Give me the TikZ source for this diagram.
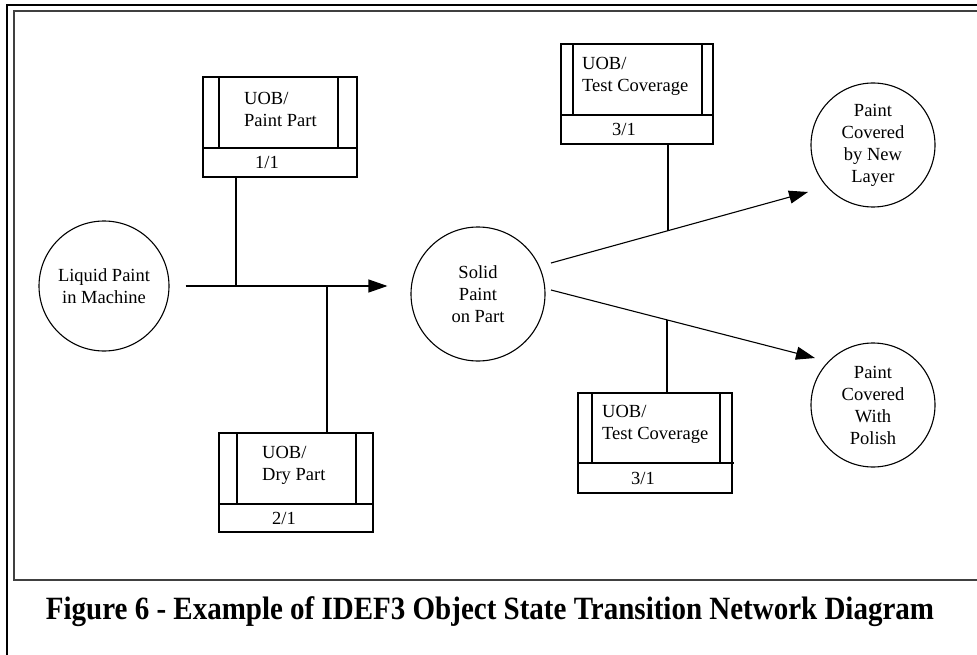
\documentclass[tikz,border=0pt]{standalone}
\usepackage{fontspec}
\setmainfont{Liberation Serif}
\usetikzlibrary{arrows.meta,calc}
\tikzset{
  state/.style={circle, draw, line width=1.1pt, minimum size=#1, inner sep=0pt,
    align=center, font=\fontsize{18.5}{22}\selectfont},
  state/.default=128pt,
  uob/.style={draw, line width=1.2pt, rectangle, inner sep=0pt},
  uobline/.style={line width=1.2pt},
  uobtext/.style={anchor=west, align=left, inner sep=0pt, font=\fontsize{18.5}{22}\selectfont},
  uobnum/.style={inner sep=0pt, font=\fontsize{18.5}{22}\selectfont},
  link/.style={line width=1.1pt},
  flow/.style={line width=1.1pt, -{Triangle[length=19pt,width=13pt]}},
}
\begin{document}
\begin{tikzpicture}[x=1pt, y=-1pt]
\useasboundingbox (0,0) rectangle (977,655);
\begin{scope}
\clip (0,0) rectangle (977,655);
% double border around the page
\draw[line width=2pt] (7,700) -- (7,5) -- (990,5);
\draw[line width=1.2pt, black!75] (990,11) -- (14,11) -- (14,580) -- (990,580);
\end{scope}

% object states
\node[state=130pt] (liquid) at (104,286) {Liquid Paint\\in Machine};
\node[state=134pt] (solid)  at (478,294) {Solid\\Paint\\on Part};
\node[state=124pt] (layer)  at (873,145) {Paint\\Covered\\by New\\Layer};
\node[state=124pt] (polish) at (873,405) {Paint\\Covered\\With\\Polish};

% UOB boxes: outer frame, divider, side bars, text
% Paint Part
\node[uob, minimum width=154pt, minimum height=100pt] (pp) at (280,127) {};
\draw[uobline] (203,148) -- (357,148) (219,77) -- (219,148) (338,77) -- (338,148);
\node[uobtext] (pptext) at (244,109) {UOB/\\Paint Part};
\node[uobnum] (ppnum) at (267,162.5) {1/1};
% Dry Part
\node[uob, minimum width=154pt, minimum height=99pt] (dp) at (296,482.5) {};
\draw[uobline] (219,504) -- (373,504) (237,433) -- (237,504) (356,433) -- (356,504);
\node[uobtext] (dptext) at (262,465) {UOB/\\Dry Part};
\node[uobnum] (dpnum) at (284,518) {2/1};
% Test Coverage (upper)
\node[uob, minimum width=152pt, minimum height=100pt] (tc1) at (637,94) {};
\draw[uobline] (561,115) -- (713,115) (573,44) -- (573,115) (702,44) -- (702,115);
\node[uobtext] (tc1text) at (582,76) {UOB/\\Test Coverage};
\node[uobnum] (tc1num) at (624,129.5) {3/1};
% Test Coverage (lower)
\node[uob, minimum width=154pt, minimum height=100pt] (tc2) at (655,443) {};
\draw[uobline] (578,463) -- (734,463) (592,393) -- (592,463) (720,393) -- (720,463);
\node[uobtext] (tc2text) at (602,424.5) {UOB/\\Test Coverage};
\node[uobnum] (tc2num) at (643,478) {3/1};

% junction points on the transition lines
\coordinate (j1) at (236,286);
\coordinate (j2) at (327,286);
\coordinate (s1) at (551,263);
\coordinate (t1) at (808,192);
\coordinate (s2) at (551,290);
\coordinate (t2) at (815,358);
\coordinate (j3) at (668,{263-(668-551)*71/257});
\coordinate (j4) at (667,{290+(667-551)*68/264});

% transitions
\draw[flow] ([xshift=16pt]liquid.east) -- ([xshift=-23pt]liquid.east -| solid.west);
\draw[flow] (s1) -- (t1);
\draw[flow] (s2) -- (t2);

% UOB references
\draw[link] (pp.south -| j1) -- (j1);
\draw[link] (dp.north -| j2) -- (j2);
\draw[link] (tc1.south -| j3) -- (j3);
\draw[link] (tc2.north -| j4) -- (j4);

% caption
\node[inner sep=0pt] (caption) at (490,612)
  {\scalebox{1}[1.12]{\fontsize{29}{34}\selectfont\bfseries Figure 6 - Example of IDEF3 Object State Transition Network Diagram}};
\end{tikzpicture}
\end{document}
